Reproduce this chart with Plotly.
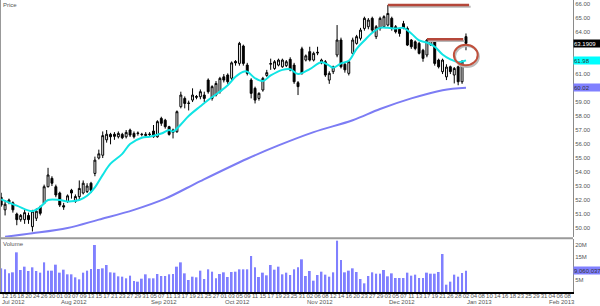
import pandas as pd
import plotly.graph_objects as go

# ---------------- data ----------------
holidays = ["2012-09-03", "2012-10-29", "2012-10-30", "2012-11-22",
            "2012-12-25", "2013-01-01", "2013-01-21"]
calendar = [d for d in pd.bdate_range("2012-07-11", "2013-02-08")
            if d.strftime("%Y-%m-%d") not in holidays]
dates = [d.strftime("%Y-%m-%d") for d in calendar]

opens = [52.19, 51.3, 51.85, 51.8, 51.0, 50.6, 50.6, 50.9, 50.1, 50.7,
         51.5, 51.76, 52.95, 53.55, 52.95, 52.5, 51.6, 51.9, 52.7, 51.9,
         52.24, 52.5, 52.6, 53.2, 53.9, 55.0, 55.2, 56.3, 56.69, 56.7,
         56.52, 56.69, 56.52, 57.0, 56.76, 56.75, 56.7, 56.6, 56.72, 56.93,
         56.52, 57.83, 57.7, 57.24, 56.83, 56.88, 58.67, 59.26, 58.9, 59.14,
         59.4, 59.38, 59.5, 60.57, 59.26, 59.5, 59.74, 60.8, 60.93, 60.7,
         61.9, 61.76, 63.0, 61.64, 60.57, 59.98, 59.26, 59.86, 60.9, 61.7,
         61.4, 61.64, 61.52, 61.6, 62.05, 61.64, 60.38, 62.8, 62.0, 62.6,
         62.0, 62.5, 61.8, 61.88, 60.57, 61.17, 62.36, 63.43, 61.7, 61.05,
         62.48, 63.19, 63.55, 64.26, 64.38, 64.98, 63.67, 64.26, 64.38, 64.5,
         64.98, 64.38, 64.2, 64.6, 64.26, 63.43, 63.3, 63.19, 62.7, 62.36,
         63.07, 63.3, 62.0, 61.17, 60.8, 61.52, 60.93, 61.52, 60.45, 63.67]
highs = [52.52, 52.0, 52.1, 51.9, 51.1, 51.0, 51.3, 51.1, 51.3, 51.4,
         51.6, 53.1, 54.3, 53.7, 53.1, 52.6, 51.8, 52.4, 52.8, 52.4,
         53.4, 53.4, 53.2, 53.3, 55.1, 55.6, 56.9, 57.0, 56.8, 56.85,
         56.9, 56.8, 57.0, 57.1, 56.9, 56.9, 56.8, 56.85, 56.85, 57.36,
         57.7, 57.95, 57.8, 57.3, 57.1, 58.4, 59.74, 59.4, 59.1, 59.98,
         59.5, 59.9, 59.74, 60.69, 60.2, 60.5, 60.8, 61.0, 61.05, 61.9,
         62.0, 63.3, 63.1, 61.8, 60.7, 60.1, 59.7, 60.8, 61.3, 62.1,
         62.0, 62.1, 62.1, 62.0, 62.2, 61.8, 60.5, 62.95, 62.4, 62.95,
         62.6, 62.95, 62.1, 62.0, 61.2, 61.6, 64.5, 63.6, 61.8, 62.0,
         63.6, 63.8, 64.3, 65.1, 65.0, 65.1, 64.5, 65.1, 65.2, 65.93,
         65.1, 64.5, 64.3, 64.8, 64.4, 63.5, 63.4, 63.3, 62.8, 63.5,
         63.5, 63.5, 62.1, 62.1, 61.7, 61.6, 61.5, 61.6, 62.0, 63.9]
lows = [51.52, 50.9, 51.7, 51.1, 50.2, 50.45, 50.3, 50.3, 49.75, 50.5,
        50.9, 51.7, 52.9, 53.0, 52.2, 51.5, 51.3, 51.8, 52.1, 51.8,
        52.0, 52.4, 52.5, 52.5, 53.7, 54.9, 55.0, 56.1, 55.98, 56.3,
        56.4, 56.35, 56.4, 56.5, 56.4, 56.6, 56.55, 56.5, 56.55, 56.45,
        56.45, 57.3, 57.1, 56.6, 56.4, 56.8, 58.55, 58.55, 58.4, 59.0,
        59.2, 59.2, 59.0, 59.6, 59.1, 59.4, 59.6, 60.4, 60.3, 60.5,
        61.6, 61.6, 61.6, 60.9, 59.26, 58.9, 59.1, 59.74, 60.8, 61.3,
        61.3, 61.55, 61.45, 61.5, 61.2, 60.3, 59.5, 60.95, 61.9, 61.9,
        61.9, 62.35, 61.7, 60.8, 60.3, 61.0, 62.2, 61.4, 61.1, 60.9,
        62.4, 63.1, 63.4, 64.1, 64.2, 64.0, 63.5, 64.1, 64.3, 64.4,
        64.1, 63.9, 63.67, 64.2, 63.0, 62.8, 62.7, 62.4, 61.88, 62.2,
        63.0, 61.6, 61.4, 61.0, 60.57, 61.0, 60.33, 60.2, 60.3, 62.7]
closes = [51.64, 51.7, 52.0, 51.3, 50.6, 50.9, 51.1, 50.6, 51.2, 51.2,
          51.05, 52.95, 53.79, 53.2, 52.36, 51.64, 51.5, 52.3, 52.5, 52.25,
          52.83, 53.2, 53.0, 52.7, 54.85, 55.3, 56.6, 56.7, 56.52, 56.55,
          56.76, 56.45, 56.83, 56.64, 56.52, 56.78, 56.68, 56.7, 56.68, 56.52,
          57.6, 57.48, 57.24, 56.69, 57.0, 58.31, 59.5, 58.9, 58.92, 59.5,
          59.35, 59.74, 59.26, 59.74, 60.1, 60.33, 60.69, 60.57, 60.45, 61.8,
          61.8, 63.19, 61.76, 61.05, 59.62, 59.14, 59.62, 60.69, 61.1, 61.75,
          61.88, 62.0, 62.0, 61.88, 61.29, 60.45, 60.1, 61.05, 62.3, 62.0,
          62.48, 62.55, 62.0, 60.93, 61.05, 61.52, 63.43, 61.52, 61.3, 61.88,
          63.43, 63.67, 64.14, 64.98, 64.86, 64.14, 64.38, 64.98, 65.1, 65.33,
          64.26, 64.02, 63.9, 64.3, 63.07, 62.95, 62.83, 62.48, 62.12, 63.43,
          63.43, 61.76, 61.52, 62.0, 61.5, 61.17, 61.4, 60.45, 61.88, 63.1909]
volumes = [10.07, 9.65, 7.94, 8.37, 16.88, 9.36, 10.78, 8.94, 10.5, 8.94,
           8.23, 12.62, 9.08, 9.08, 11.63, 8.23, 9.5, 7.52, 7.52, 6.24,
           5.39, 8.23, 9.08, 9.79, 20.0, 9.79, 10.07, 11.49, 8.37, 8.23,
           6.67, 6.52, 5.82, 6.95, 4.68, 4.4, 5.67, 7.52, 5.82, 5.82,
           7.66, 6.81, 6.81, 7.52, 7.66, 10.78, 12.62, 7.94, 5.11, 6.52,
           6.24, 9.08, 5.53, 9.65, 8.65, 5.82, 7.66, 8.37, 6.38, 8.51,
           8.65, 9.65, 9.65, 9.65, 15.32, 10.5, 6.38, 8.23, 7.09, 11.49,
           9.5, 10.78, 7.52, 8.23, 7.23, 9.65, 10.5, 13.9, 6.81, 8.94,
           4.82, 7.23, 8.65, 7.38, 6.52, 8.37, 21.84, 13.62, 8.37, 9.08,
           10.07, 8.51, 5.53, 3.69, 6.81, 8.37, 7.8, 7.8, 9.36, 6.67,
           7.94, 5.96, 5.96, 5.96, 8.23, 6.95, 7.38, 5.96, 5.96, 8.23,
           7.8, 7.8, 8.51, 16.17, 3.12, 4.4, 7.38, 6.52, 8.09, 9.060037]
volumes = [v * 1e6 for v in volumes]

# moving averages (bar index, value)
ma_fast_idx = [0, 4, 8, 10, 12, 15, 17, 20, 22, 24, 26, 28, 31, 33, 36, 38, 41, 43,
               44, 46, 48, 51, 53, 56, 58, 60, 62, 63, 65, 67, 69, 72, 74, 76, 79,
               82, 84, 85, 87, 89, 91, 93, 95, 97, 99, 101, 103, 105, 107, 109, 111,
               113, 115, 117, 119]
ma_fast_val = [52.05, 51.6, 51.2, 51.5, 52.0, 52.0, 51.9, 52.0, 52.3, 52.9, 53.8, 54.6,
               55.3, 56.0, 56.45, 56.52, 56.75, 57.0, 56.9, 57.4, 58.0, 58.7, 59.15,
               59.75, 60.2, 60.8, 61.17, 61.17, 60.7, 60.5, 60.9, 61.3, 61.35, 61.0,
               61.35, 61.85, 61.6, 61.45, 61.76, 61.95, 62.8, 63.4, 63.95, 64.3, 64.3,
               64.25, 64.3, 63.9, 63.4, 63.25, 62.95, 62.4, 62.05, 61.85, 61.98]
ma_slow_idx = [1, 8, 17, 25, 34, 42, 51, 63, 71, 80, 90, 97, 105, 113, 119]
ma_slow_val = [49.38, 49.62, 50.0, 50.6, 51.3, 52.1, 53.35, 54.95, 55.9, 56.85,
               57.7, 58.5, 59.26, 59.85, 60.02]

# ticks hidden behind the value boxes on the right are left out
price_ticks = [50, 51, 52, 53, 54, 55, 56, 57, 58, 59, 61, 64, 65, 66]
volume_ticks = [5e6, 15e6, 20e6]
volume_tick_text = ["5M", "15M", "20M"]

# ---------------- figure ----------------
pos = list(range(len(dates)))
n = len(closes)
FONT = "Liberation Sans, Arial, sans-serif"
TXT = "#555555"
FS = 6

fig = go.Figure()
fig.add_trace(go.Candlestick(
    x=pos[:n], open=opens, high=highs, low=lows, close=closes,
    increasing=dict(line=dict(color="black", width=1), fillcolor="white"),
    decreasing=dict(line=dict(color="black", width=1), fillcolor="black"),
    whiskerwidth=0, showlegend=False, hoverinfo="skip"))
fig.add_trace(go.Scatter(x=ma_fast_idx, y=ma_fast_val, mode="lines",
                         line=dict(color="#10E4E4", width=2, shape="spline"),
                         showlegend=False, hoverinfo="skip"))
fig.add_trace(go.Scatter(x=ma_slow_idx, y=ma_slow_val, mode="lines",
                         line=dict(color="#7C7CF4", width=2, shape="spline"),
                         showlegend=False, hoverinfo="skip"))
fig.add_trace(go.Bar(x=pos[:n], y=volumes, yaxis="y2", marker_color="#8080FF",
                     marker_line_width=0, width=0.5, showlegend=False,
                     hoverinfo="skip"))

tickvals = [i for i in pos if i % 2 == 1]
ticktext = [calendar[i].strftime("%d") for i in tickvals]

fig.update_layout(
    width=600, height=306, margin=dict(l=0, r=27, t=0, b=14),
    paper_bgcolor="white", plot_bgcolor="white",
    font=dict(family=FONT, size=FS, color=TXT),
    xaxis=dict(range=[-0.3, 146.4], anchor="y2", tickvals=tickvals, ticktext=ticktext,
               tickangle=0, ticklabelstandoff=-3, showgrid=False, zeroline=False,
               showline=True, linecolor="black", linewidth=2, ticks="",
               tickfont=dict(size=FS, color=TXT), rangeslider=dict(visible=False)),
    yaxis=dict(domain=[0.1884, 1], range=[49.36, 66.29], side="right",
               tickvals=price_ticks, ticktext=[f"{v:.2f}" for v in price_ticks],
               showgrid=False, zeroline=False, showline=True, linecolor="#8a8a8a",
               linewidth=1, ticks="", tickfont=dict(size=FS, color=TXT)),
    yaxis2=dict(domain=[0, 0.1815], range=[0, 22.55e6], side="right", anchor="x",
                tickvals=volume_ticks, ticktext=volume_tick_text,
                showgrid=False, zeroline=False, showline=True, linecolor="#8a8a8a",
                linewidth=1, ticks="", tickfont=dict(size=FS, color=TXT)),
    bargap=0.5,
)

shapes = [
    dict(type="line", xref="paper", yref="paper", x0=0, x1=0, y0=0, y1=1,
         line=dict(color="#999999", width=2)),
    dict(type="line", xref="paper", yref="paper", x0=0, x1=1, y0=0.1845, y1=0.1845,
         line=dict(color="#9a9a9a", width=2)),
]
# red hand-drawn resistance marks (with a grey shadow)
for (xa, xb, yv) in [(99, 119.8, 65.93), (109, 118.3, 63.48)]:
    shapes.append(dict(type="line", x0=xa + 0.4, x1=xb + 0.4, y0=yv - 0.12, y1=yv - 0.12,
                       xref="x", yref="y", line=dict(color="#b8b8b8", width=2)))
    shapes.append(dict(type="line", x0=xa, x1=xb, y0=yv, y1=yv, xref="x", yref="y",
                       line=dict(color="#B5473A", width=2.5)))
shapes.append(dict(type="circle", xref="x", yref="y", x0=116.2, x1=122.3, y0=61.5,
                   y1=63.0, line=dict(color="#bbbbbb", width=2)))
shapes.append(dict(type="circle", xref="x", yref="y", x0=115.9, x1=122.0, y0=61.62,
                   y1=63.1, line=dict(color="#C0503C", width=2)))
fig.update_layout(shapes=shapes)

ann = []
months = {}
for i, d in enumerate(calendar):
    key = d.strftime("%b %Y")
    if key not in months:
        months[key] = i
for key, i in months.items():
    ann.append(dict(x=i, y=0, xref="x", yref="paper", text=key, showarrow=False,
                    xanchor="left", yanchor="bottom", xshift=0, yshift=-14,
                    borderpad=0, font=dict(size=FS, color=TXT)))
ann.append(dict(x=0, y=1, xref="paper", yref="paper", text="Price", showarrow=False,
                xanchor="left", yanchor="top", xshift=1, font=dict(size=FS, color=TXT)))
ann.append(dict(x=0, y=0.1815, xref="paper", yref="paper", text="Volume",
                showarrow=False, xanchor="left", yanchor="top", xshift=1,
                font=dict(size=FS, color=TXT)))
for txt, yv, yref, bg, fc in [("63.1909", closes[-1], "y", "black", "white"),
                              ("61.98", ma_fast_val[-1], "y", "#00FFFF", "#333333"),
                              ("60.02", ma_slow_val[-1], "y", "#8080FF", "#333333"),
                              ("9,060,037", volumes[-1], "y2", "#8080FF", "#333333")]:
    ann.append(dict(x=1, y=yv, xref="paper", yref=yref, text=txt, showarrow=False,
                    xanchor="left", yanchor="middle", width=27, height=7, align="left",
                    bgcolor=bg, borderpad=0, font=dict(size=FS, color=fc)))
fig.update_layout(annotations=ann)

fig.write_html("out.html")
